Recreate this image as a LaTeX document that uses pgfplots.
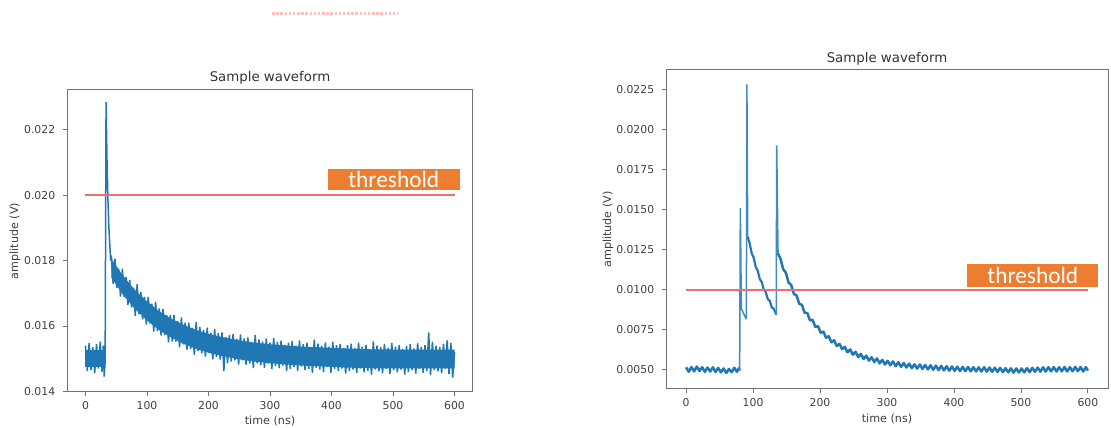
\documentclass[border=0pt]{standalone}
\usepackage{fontspec}
\setmainfont{DejaVu Sans}
\newfontfamily\cali{Carlito}
\usepackage{pgfplots}
\pgfplotsset{compat=1.18}
\definecolor{mplblue}{HTML}{1F77B4}
\definecolor{thr}{HTML}{E87070}
\definecolor{boxor}{HTML}{ED7D31}
\tikzset{thbox/.style={fill=boxor, text=white, inner sep=0pt, font=\cali\fontsize{14}{15}\selectfont}}
\pgfplotsset{
  wave/.style={
    scale only axis,
    xmin=-30, xmax=630,
    xtick={0,100,200,300,400,500,600},
    scaled y ticks=false,
    /pgf/number format/assume math mode=true,
    tick align=outside,
    xtick pos=bottom, ytick pos=left,
    major tick length=2.4pt,
    tick style={black!55, line width=0.5pt},
    axis line style={black!55, line width=0.6pt},
    ticklabel style={font=\fontsize{6.5}{7}\selectfont, text=black!75},
    xticklabel style={anchor=base, yshift=-8.2pt},
    yticklabel style={anchor=east, inner sep=0pt, xshift=-4.5pt},
    label style={font=\fontsize{6.7}{8}\selectfont, text=black!75},
    title style={font=\fontsize{8}{9}\selectfont, text=black!80, at={(0.5,1)}, anchor=base},
    title={Sample waveform},
    xlabel={time (ns)},
    ylabel={amplitude (V)},
  },
}

\begin{document}
\begin{tikzpicture}
\path[use as bounding box] (0,0) rectangle (666.6pt,256.8pt);
\draw[red!25, line width=1.5pt, dash pattern=on 1.5pt off 1pt] (163.2pt,248.7pt) -- (238.8pt,248.7pt);

% left panel
\begin{axis}[wave,
  at={(40.2pt,21.6pt)}, anchor=south west,
  width=243.6pt, height=181.2pt,
  ymin=0.01398, ymax=0.02322,
  ytick={0.014,0.016,0.018,0.020,0.022},
  yticklabel style={/pgf/number format/fixed, /pgf/number format/fixed zerofill, /pgf/number format/precision=3},
  title style={yshift=-1pt},
  xlabel style={at={(0.5,0)}, anchor=base, yshift=-19.4pt},
  ylabel style={at={(0,0.5)}, anchor=center, yshift=31.2pt},
]
% dense part of the noise band
\addplot[fill=mplblue, draw=none] coordinates {
(0,0.01475) (31,0.01475) (31,0.01528) (0,0.01528)};
\addplot[fill=mplblue, draw=none] coordinates {
(42,0.01806) (60,0.01756) (80,0.01711) (100,0.01675) (120,0.01645) (140,0.01622)
(160,0.01603) (180,0.01588) (200,0.01576) (225,0.01565) (250,0.01556) (275,0.01549)
(300,0.01544) (350,0.01537) (400,0.01533) (450,0.01529) (500,0.01528) (600,0.01528)
(600,0.01470) (500,0.01470) (450,0.01471) (400,0.01475) (350,0.01479) (300,0.01486)
(275,0.01491) (250,0.01498) (225,0.01507) (200,0.01518) (180,0.01530) (160,0.01545)
(140,0.01564) (120,0.01587) (100,0.01617) (80,0.01653) (60,0.01698) (42,0.01748)};
\addplot[mplblue, line width=0.9pt, line join=bevel] coordinates {
(0,0.01540) (3,0.01462) (6,0.01548) (9,0.01466) (12,0.01535) (15,0.01455)
(18,0.01545) (21,0.01470) (24,0.01552) (27,0.01460) (29,0.01540) (30.5,0.01445)
(32,0.01490) (33.5,0.02285) (35,0.02110) (36.5,0.01990) (38,0.01905) (39.5,0.01850)
(41,0.01800)
(42,0.01816) (45,0.01729) (48,0.01805) (51,0.01717) (54,0.01775) (57,0.01690)
(60,0.01775) (63,0.01689) (66,0.01750) (69,0.01664) (72,0.01741) (75,0.01656)
(78,0.01717) (81,0.01631) (84,0.01728) (87,0.01636) (90,0.01704) (93,0.01620)
(96,0.01689) (99,0.01604) (102,0.01689) (105,0.01608) (108,0.01668) (111,0.01583)
(114,0.01674) (117,0.01585) (120,0.01654) (123,0.01571) (126,0.01652) (129,0.01573)
(132,0.01633) (135,0.01550) (138,0.01634) (141,0.01552) (144,0.01634) (147,0.01552)
(150,0.01615) (153,0.01535) (156,0.01626) (159,0.01544) (162,0.01610) (165,0.01528)
(168,0.01610) (171,0.01529) (174,0.01594) (177,0.01512) (180,0.01612) (183,0.01524)
(186,0.01597) (189,0.01516) (192,0.01588) (195,0.01506) (198,0.01595) (201,0.01517)
(204,0.01579) (207,0.01498) (210,0.01591) (213,0.01506) (216,0.01578) (219,0.01497)
(222,0.01580) (225,0.01462) (228,0.01566) (231,0.01486) (234,0.01572) (237,0.01491)
(240,0.01575) (243,0.01495) (246,0.01560) (249,0.01482) (252,0.01574) (255,0.01495)
(258,0.01562) (261,0.01482) (264,0.01565) (267,0.01485) (270,0.01551) (273,0.01471)
(276,0.01573) (279,0.01486) (282,0.01559) (285,0.01480) (288,0.01553) (291,0.01472)
(294,0.01562) (297,0.01485) (300,0.01549) (303,0.01468) (306,0.01563) (309,0.01478)
(312,0.01551) (315,0.01471) (318,0.01555) (321,0.01479) (324,0.01542) (327,0.01462)
(330,0.01549) (333,0.01469) (336,0.01554) (339,0.01475) (342,0.01540) (345,0.01463)
(348,0.01556) (351,0.01476) (354,0.01544) (357,0.01465) (360,0.01549) (363,0.01469)
(366,0.01536) (369,0.01457) (372,0.01558) (375,0.01472) (378,0.01546) (381,0.01467)
(384,0.01540) (387,0.01460) (390,0.01550) (393,0.01474) (396,0.01537) (399,0.01457)
(402,0.01552) (405,0.01468) (408,0.01541) (411,0.01462) (414,0.01545) (417,0.01470)
(420,0.01533) (423,0.01454) (426,0.01541) (429,0.01462) (432,0.01546) (435,0.01467)
(438,0.01533) (441,0.01456) (444,0.01549) (447,0.01470) (450,0.01537) (453,0.01458)
(456,0.01542) (459,0.01463) (462,0.01530) (465,0.01451) (468,0.01553) (471,0.01467)
(474,0.01540) (477,0.01461) (480,0.01535) (483,0.01455) (486,0.01545) (489,0.01469)
(492,0.01533) (495,0.01453) (498,0.01548) (501,0.01464) (504,0.01537) (507,0.01458)
(510,0.01542) (513,0.01467) (516,0.01530) (519,0.01451) (522,0.01538) (525,0.01459)
(528,0.01544) (531,0.01465) (534,0.01531) (537,0.01454) (540,0.01547) (543,0.01468)
(546,0.01536) (549,0.01457) (552,0.01541) (555,0.01462) (558,0.01580) (561,0.01450)
(564,0.01552) (567,0.01466) (570,0.01540) (573,0.01461) (576,0.01535) (579,0.01455)
(582,0.01545) (585,0.01469) (588,0.01556) (591,0.01453) (594,0.01548) (597,0.01442)
(600,0.01520)
};
\addplot[thr, line width=1.2pt] coordinates {(0,0.020) (600,0.020)};
\node[thbox, minimum width=79.2pt, minimum height=12.6pt] at (rel axis cs:0.805,0.704) {threshold};
\end{axis}

% right panel
\begin{axis}[wave,
  at={(399.6pt,23.4pt)}, anchor=south west,
  width=265.2pt, height=191.4pt,
  ymin=0.0038, ymax=0.0237,
  ytick={0.0050,0.0075,0.0100,0.0125,0.0150,0.0175,0.0200,0.0225},
  yticklabel style={/pgf/number format/fixed, /pgf/number format/fixed zerofill, /pgf/number format/precision=4},
  title style={yshift=-1.7pt},
  xlabel style={at={(0.5,0)}, anchor=base, yshift=-20pt},
  ylabel style={at={(0,0.5)}, anchor=center, yshift=34.8pt},
]
% baseline before the pulses
\addplot[mplblue, line width=1.5pt, line join=round] coordinates {
(0,0.00515) (4,0.00488) (8,0.00517) (12,0.00490) (16,0.00520) (20,0.00492)
(24,0.00516) (28,0.00487) (32,0.00514) (36,0.00489) (40,0.00515) (44,0.00486)
(48,0.00512) (52,0.00484) (56,0.00508) (60,0.00480) (64,0.00505) (68,0.00485)
(72,0.00512) (76,0.00488) (79,0.00510) (80,0.00495)
};
% first two spikes
\addplot[mplblue!85, line width=0.9pt, line join=bevel] coordinates {
(80,0.00495) (81,0.01510) (82.5,0.00880) (85,0.00860) (87,0.00840) (89,0.00825) (90,0.00815)
(90.8,0.02280) (92,0.01330)
};
\addplot[mplblue, line width=1.3pt, line join=round] coordinates {
(92,0.01330) (95,0.01288) (98,0.01226) (101,0.01198) (104,0.01141) (107,0.01118) (110,0.01066)
(113,0.01048) (116,0.00999) (119,0.00985) (122,0.00940) (125,0.00930) (128,0.00888)
(131,0.00881) (134.6,0.00843)
};
% third spike
\addplot[mplblue!85, line width=0.9pt, line join=bevel] coordinates {
(134.6,0.00843) (135.3,0.01900) (137.3,0.01225)
};
% decay tail
\addplot[mplblue, line width=1.5pt, line join=round] coordinates {
(137.3,0.01225)
(141,0.01192) (145,0.01127) (149,0.01105) (153,0.01044) (157,0.01028) (161,0.00973)
(165,0.00963) (169,0.00911) (173,0.00905) (177,0.00855) (181,0.00854) (185,0.00808)
(189,0.00811) (193,0.00767) (197,0.00772) (201,0.00731) (205,0.00738) (209,0.00700)
(213,0.00709) (217,0.00671) (221,0.00684) (225,0.00648) (229,0.00662) (233,0.00628)
(237,0.00643) (241,0.00609) (245,0.00627) (249,0.00594) (253,0.00612) (257,0.00579)
(261,0.00599) (265,0.00567) (269,0.00588) (273,0.00557) (277,0.00578) (281,0.00548)
(285,0.00571) (289,0.00540) (293,0.00562) (297,0.00533) (301,0.00556)
(305,0.00528) (309,0.00552) (313,0.00522) (317,0.00547) (321,0.00518) (325,0.00542)
(329,0.00514) (333,0.00538) (337,0.00510) (341,0.00534) (345,0.00507) (349,0.00533)
(353,0.00505) (357,0.00530) (361,0.00502) (365,0.00528) (369,0.00500) (373,0.00526)
(377,0.00498) (381,0.00524) (385,0.00496) (389,0.00522) (393,0.00494) (397,0.00521)
(401,0.00493) (405,0.00519) (409,0.00492) (413,0.00518) (417,0.00491) (421,0.00517)
(425,0.00490) (429,0.00516) (433,0.00490) (437,0.00515) (441,0.00489) (445,0.00516)
(449,0.00488) (453,0.00514) (457,0.00487) (461,0.00513) (465,0.00486) (469,0.00512)
(473,0.00485) (477,0.00510) (481,0.00484) (485,0.00509) (489,0.00482) (493,0.00508)
(497,0.00483) (501,0.00508) (505,0.00484) (509,0.00510) (513,0.00485) (517,0.00512)
(521,0.00487) (525,0.00514) (529,0.00488) (533,0.00515) (537,0.00489) (541,0.00516)
(545,0.00490) (549,0.00517) (553,0.00489) (557,0.00516) (561,0.00490) (565,0.00517)
(569,0.00489) (573,0.00516) (577,0.00490) (581,0.00518) (585,0.00491) (589,0.00517)
(593,0.00489) (597,0.00516) (600,0.00495)
};
\addplot[thr, line width=1.2pt] coordinates {(0,0.0100) (600,0.0100)};
\node[thbox, minimum width=78.6pt, minimum height=13.8pt] at (rel axis cs:0.830,0.356) {threshold};
\end{axis}
\end{tikzpicture}
\end{document}
